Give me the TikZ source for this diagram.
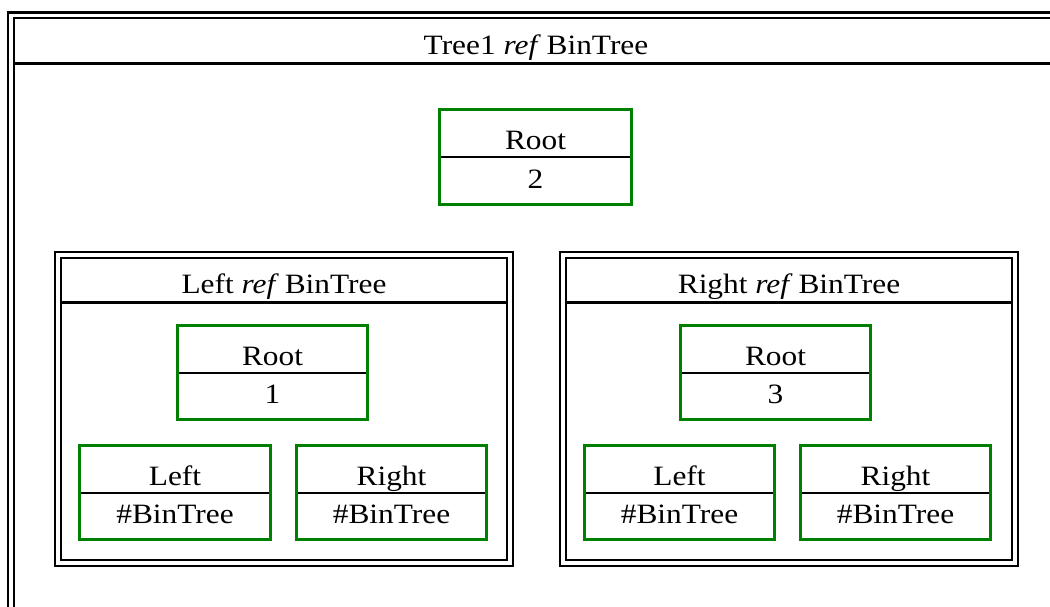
\documentclass[tikz,border=0pt]{standalone}
\usepackage{fontspec}
\setmainfont{Liberation Serif}[FakeStretch=1.12]
\usetikzlibrary{positioning}
\definecolor{boxgreen}{RGB}{0,128,0}
\tikzset{
  frame/.style={draw=black, double=white, double distance=3.4pt, line width=2.3pt},
  sepline/.style={draw=black, line width=2.2pt},
  gbox/.style={draw=boxgreen, line width=3.4pt, rectangle, inner sep=0pt},
  lbl/.style={anchor=base, inner sep=0pt, font=\fontsize{28}{32}\selectfont},
}
\newcommand{\gbx}[8]{%
  \node[gbox, minimum width={#4-#2}, minimum height={#5-#3}] (#1) at ({(#2+#4)/2},{(#3+#5)/2}) {};
  \draw[sepline] (#2+1.5,#6) -- (#4-1.5,#6);
  \node[lbl] (#1-top) at ({(#2+#4)/2},#6-7.5) {#7};
  \node[lbl] (#1-bot) at ({(#2+#4)/2},#5-16) {#8};
}
\begin{document}
\begin{tikzpicture}[x=1pt,y=-1pt]
\useasboundingbox (0,0) rectangle (1050,607);
\clip (0,0) rectangle (1050,607);
% outer frame
\draw[frame] (11,15.5) rectangle (1080,640);
\draw[sepline] (14,63.5) -- (1060,63.5);
\node[lbl] (title) at (536,55) {Tree1 \textit{ref}\kern-2pt{} BinTree};
% root
\gbx{root}{439.5}{109.5}{631.5}{204.5}{157}{Root}{2}
% left subtree frame
\draw[frame] (58,255) rectangle (510,563);
\draw[sepline] (61,302.5) -- (507,302.5);
\node[lbl] (ltitle) at (284,293) {Left \textit{ref}\kern-2pt{} BinTree};
\gbx{lroot}{177.5}{325.5}{367.5}{419.5}{373}{Root}{1}
\gbx{lleft}{79.5}{445.5}{270.5}{539.5}{493}{Left}{\#BinTree}
\gbx{lright}{296.5}{445.5}{486.5}{539.5}{493}{Right}{\#BinTree}
% right subtree frame
\draw[frame] (563,255) rectangle (1015,563);
\draw[sepline] (566,302.5) -- (1012,302.5);
\node[lbl] (rtitle) at (789,293) {Right \textit{ref}\kern-2pt{} BinTree};
\gbx{rroot}{680.5}{325.5}{870.5}{419.5}{373}{Root}{3}
\gbx{rleft}{584.5}{445.5}{774.5}{539.5}{493}{Left}{\#BinTree}
\gbx{rright}{800.5}{445.5}{990.5}{539.5}{493}{Right}{\#BinTree}
\end{tikzpicture}
\end{document}
